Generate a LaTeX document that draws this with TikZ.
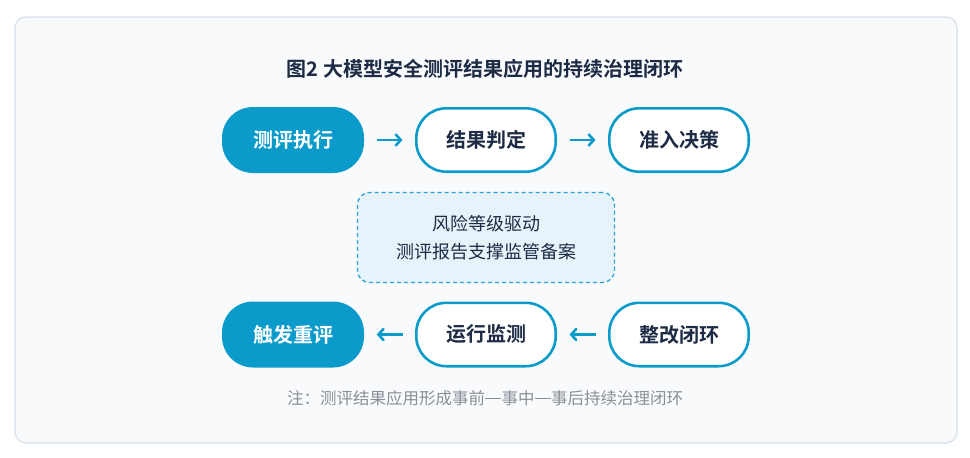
\documentclass[tikz,border=0pt]{standalone}
\usepackage{fontspec}
\setmainfont{Noto Sans CJK SC}[BoldFont={Noto Sans CJK SC Bold}]
\usetikzlibrary{arrows.meta}
\definecolor{cardbg}{HTML}{F8FAFC}
\definecolor{cardline}{HTML}{DDE5EE}
\definecolor{mainblue}{HTML}{0A9BCB}
\definecolor{navy}{HTML}{1E2B45}
\definecolor{dashfill}{HTML}{E6F3FB}
\definecolor{dashline}{HTML}{2AA3D3}
\definecolor{notegray}{HTML}{8A8F98}
\newcommand{\fwdash}{\makebox[1em]{\raisebox{0.33em}{\rule{0.94em}{0.06em}}}}
\tikzset{
  filledbox/.style={fill=mainblue, text=white, minimum width=142pt, minimum height=66pt, rounded corners=31pt, inner sep=0pt, font=\fontsize{20}{24}\selectfont\bfseries},
  outlinebox/.style={draw=mainblue, fill=white, line width=2.6pt, text=navy, minimum width=139.4pt, minimum height=63.4pt, rounded corners=30pt, inner sep=0pt, font=\fontsize{20}{24}\selectfont\bfseries},
  flowarrow/.style={draw=mainblue, line width=2.6pt, -{Straight Barb[length=5pt,width=11pt,line cap=round]}, shorten <=12.5pt, shorten >=12.5pt},
  notebox/.style={draw=dashline, fill=dashfill, line width=1.3pt, dash pattern=on 4pt off 3pt, rounded corners=12pt, minimum width=257pt, minimum height=90pt, inner sep=0pt, align=center, text=navy, font=\fontsize{18}{28}\selectfont},
}
\begin{document}
\begin{tikzpicture}[x=1pt,y=-1pt]
\useasboundingbox (0,0) rectangle (970,458);
\fill[white] (0,0) rectangle (970,458);
\draw[draw=cardline, fill=cardbg, line width=1.5pt, rounded corners=11pt] (15,17) rectangle (957,443);

\node[text=navy, font=\fontsize{20}{24}\selectfont\bfseries] (title) at (485,69) {图2 大模型安全测评结果应用的持续治理闭环};

\node[filledbox] (exec) at (293,140) {测评执行};
\node[outlinebox] (judge) at (486,140) {结果判定};
\node[outlinebox] (decide) at (679,140) {准入决策};

\node[notebox] (note) at (486,237.5) {风险等级驱动\\测评报告支撑监管备案};

\node[filledbox] (retest) at (293,334.5) {触发重评};
\node[outlinebox] (monitor) at (486,334.5) {运行监测};
\node[outlinebox] (fix) at (679,334.5) {整改闭环};

\draw[flowarrow] (exec) -- (judge);
\draw[flowarrow] (judge) -- (decide);
\draw[flowarrow] (fix) -- (monitor);
\draw[flowarrow] (monitor) -- (retest);

\node[text=notegray, font=\fontsize{16.5}{20}\selectfont] (foot) at (485,398) {注：测评结果应用形成事前\fwdash 事中\fwdash 事后持续治理闭环};
\end{tikzpicture}
\end{document}
